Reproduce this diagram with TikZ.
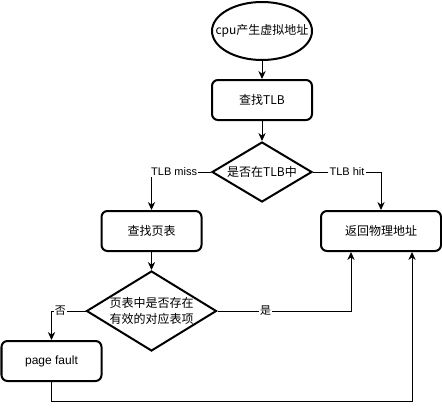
\documentclass[tikz,border=0pt]{standalone}
\usepackage{fontspec}
\setmainfont{Liberation Sans}
\newfontfamily\cjk{Noto Sans CJK SC}
\usepackage{tikz}
\usetikzlibrary{shapes.geometric, positioning, arrows.meta}

\begin{document}
\begin{tikzpicture}[
        x=0.75pt, y=-0.75pt,
        box/.style={rectangle, draw, line width=1.5pt, rounded corners=4.5pt, minimum width=75pt, minimum height=30pt, inner sep=0pt, align=center},
        start/.style={ellipse, draw, line width=1.5pt, minimum width=75pt, minimum height=43.5pt, inner sep=0pt},
        decision/.style={diamond, draw, line width=1.5pt, inner sep=0pt, align=center},
        zh/.style={font=\fontsize{9pt}{12pt}\selectfont\cjk},
        link/.style={draw, -{Stealth[length=6pt, width=5.5pt]}, line width=0.75pt},
        tag/.style={fill=white, inner sep=1pt, font=\fontsize{8.25pt}{10pt}\selectfont},
        every node/.style={font=\fontsize{9pt}{12pt}\selectfont}
        ]
        \useasboundingbox (0,0) rectangle (442,410);

        % Nodes
        \node[start, zh] (cpu) at (262,31) {\makebox[40pt]{cpu产生虚拟地址}};
        \node[box, zh] (tlb) at (262,100) {查找TLB};
        \node[decision, zh, minimum width=75pt, minimum height=45pt, aspect=1.7] (intlb) at (262,172) {是否在TLB中};
        \node[box, zh] (pt) at (151.5,231) {查找页表};
        \node[box, zh, minimum width=90pt] (ret) at (381,231) {返回物理地址};
        \node[decision, zh, minimum width=97.5pt, minimum height=60pt, aspect=1.6] (valid) at (151.5,311) {页表中是否存在\\有效的对应表项};
        \node[box] (pf) at (51.5,361) {page fault};
        \coordinate (back) at (412,401);

        % Links
        \draw[link] (cpu) -- (tlb);
        \draw[link] (tlb) -- (intlb);
        \draw[link] (intlb.west) -| node[tag, pos=0.31] {TLB miss} (pt.north);
        \draw[link] (intlb.east) -| node[tag, pos=0.25] {TLB hit} (ret.north);
        \draw[link] (pt) -- (valid);
        \draw[link] (valid.west) -| node[tag, pos=0.37] {\cjk 否} (pf.north);
        \draw[link] (valid.east) -| node[tag, pos=0.18] {\cjk 是} ([xshift=-22.5pt]ret.south);
        \draw[link] (pf.south) |- (back) -- (back |- ret.south);

    \end{tikzpicture}
\end{document}
